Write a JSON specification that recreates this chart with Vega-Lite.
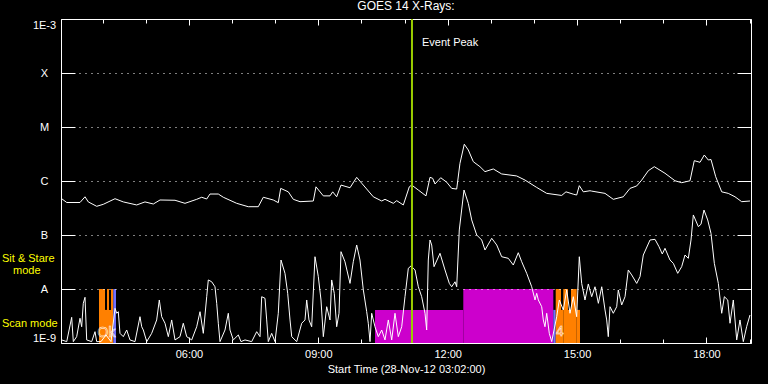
{
 "$schema": "https://vega.github.io/schema/vega-lite/v6.json",
 "width": 690, "height": 324,
 "autosize": {"type": "none"},
 "padding": {"left": 61, "top": 19, "right": 17, "bottom": 41},
 "background": "black",
 "title": {"text": "GOES 14 X-Rays:", "color": "white", "font": "Liberation Sans", "fontSize": 12, "fontWeight": "normal", "offset": 5},
 "config": {"view": {"stroke": "white", "strokeWidth": 1}, "font": "Liberation Sans"},
 "datasets": {
  "modes": [
   {"t0":3.9145,"t1":4.0536,"state":"S1","top":1e-8},
   {"t0":4.0536,"t1":4.1,"state":"S1","top":4.1e-9},
   {"t0":4.1,"t1":4.1464,"state":"S1","top":1e-8},
   {"t0":4.1464,"t1":4.1927,"state":"S1","top":4.1e-9},
   {"t0":4.1927,"t1":4.2461,"state":"S1","top":1e-8},
   {"t0":4.2461,"t1":4.3087,"state":"S3","top":1e-8},
   {"t0":10.3145,"t1":12.362,"state":"S2","top":4.1e-9},
   {"t0":12.362,"t1":14.449,"state":"S2","top":1e-8},
   {"t0":14.449,"t1":14.5046,"state":"S3","top":4.1e-9},
   {"t0":14.5046,"t1":14.6275,"state":"S1","top":1e-8},
   {"t0":14.6275,"t1":14.6809,"state":"S1","top":4.1e-9},
   {"t0":14.6809,"t1":14.7899,"state":"S1","top":1e-8},
   {"t0":14.7899,"t1":14.8594,"state":"S1","top":4.1e-9},
   {"t0":14.8594,"t1":14.9916,"state":"S1","top":1e-8},
   {"t0":14.9916,"t1":15.0681,"state":"S1","top":4.1e-9}
  ],
  "long": [
   {"t":3.034,"flux":4.8e-7},{"t":3.166,"flux":4.0e-7},{"t":3.474,"flux":4.0e-7},{"t":3.59,"flux":5.1e-7},{"t":3.666,"flux":4.1e-7},{"t":3.861,"flux":3.4e-7},{"t":4.014,"flux":3.7e-7},{"t":4.286,"flux":4.7e-7},{"t":4.478,"flux":4.1e-7},{"t":4.789,"flux":3.6e-7},{"t":4.981,"flux":4.1e-7},{"t":5.174,"flux":3.75e-7},{"t":5.329,"flux":4.45e-7},{"t":5.677,"flux":4.4e-7},{"t":5.909,"flux":3.86e-7},{"t":6.18,"flux":4.58e-7},{"t":6.296,"flux":5.0e-7},{"t":6.412,"flux":4.64e-7},{"t":6.488,"flux":5.74e-7},{"t":6.681,"flux":5.74e-7},{"t":6.797,"flux":5.0e-7},{"t":7.107,"flux":3.86e-7},{"t":7.376,"flux":3.34e-7},{"t":7.608,"flux":3.34e-7},{"t":7.724,"flux":5.0e-7},{"t":7.956,"flux":4.45e-7},{"t":8.072,"flux":3.97e-7},{"t":8.128,"flux":7.3e-7},{"t":8.304,"flux":6.3e-7},{"t":8.42,"flux":4.58e-7},{"t":8.575,"flux":4.14e-7},{"t":8.884,"flux":4.26e-7},{"t":8.946,"flux":7.8e-7},{"t":9.116,"flux":5.3e-7},{"t":9.271,"flux":5.3e-7},{"t":9.334,"flux":6.3e-7},{"t":9.426,"flux":5.1e-7},{"t":9.526,"flux":8.4e-7},{"t":9.735,"flux":7.5e-7},{"t":9.89,"flux":1.17e-6},{"t":10.006,"flux":9.1e-7},{"t":10.275,"flux":5.1e-7},{"t":10.47,"flux":4.26e-7},{"t":10.546,"flux":4.58e-7},{"t":10.739,"flux":3.86e-7},{"t":10.818,"flux":4.32e-7},{"t":10.971,"flux":3.6e-7},{"t":11.11,"flux":7.8e-7},{"t":11.166,"flux":8.4e-7},{"t":11.319,"flux":6.8e-7},{"t":11.497,"flux":5.3e-7},{"t":11.59,"flux":1.17e-6},{"t":11.652,"flux":1.12e-6},{"t":11.706,"flux":8.8e-7},{"t":11.838,"flux":1.15e-6},{"t":11.977,"flux":9.5e-7},{"t":12.093,"flux":7.3e-7},{"t":12.209,"flux":7.1e-7},{"t":12.285,"flux":2.13e-6},{"t":12.385,"flux":4.8e-6},{"t":12.478,"flux":3.75e-6},{"t":12.594,"flux":2.28e-6},{"t":12.749,"flux":1.84e-6},{"t":12.865,"flux":1.49e-6},{"t":13.058,"flux":1.67e-6},{"t":13.252,"flux":1.35e-6},{"t":13.6,"flux":1.24e-6},{"t":13.793,"flux":1.04e-6},{"t":14.064,"flux":7.6e-7},{"t":14.296,"flux":5.9e-7},{"t":14.644,"flux":5.4e-7},{"t":14.743,"flux":6.3e-7},{"t":14.913,"flux":5.7e-7},{"t":14.991,"flux":5.5e-7},{"t":15.052,"flux":8.2e-7},{"t":15.145,"flux":6.3e-7},{"t":15.3,"flux":6.6e-7},{"t":15.339,"flux":6.5e-7},{"t":15.648,"flux":5.9e-7},{"t":15.84,"flux":4.58e-7},{"t":16.072,"flux":5.1e-7},{"t":16.228,"flux":7.3e-7},{"t":16.383,"flux":8.1e-7},{"t":16.499,"flux":1.04e-6},{"t":16.652,"flux":1.55e-6},{"t":16.791,"flux":1.84e-6},{"t":17.039,"flux":1.39e-6},{"t":17.271,"flux":1.01e-6},{"t":17.426,"flux":9.3e-7},{"t":17.619,"flux":1.01e-6},{"t":17.718,"flux":2.38e-6},{"t":17.851,"flux":2.22e-6},{"t":17.95,"flux":3.03e-6},{"t":18.043,"flux":2.45e-6},{"t":18.106,"flux":2.5e-6},{"t":18.215,"flux":1.2e-6},{"t":18.354,"flux":6.3e-7},{"t":18.506,"flux":5.9e-7},{"t":18.662,"flux":5.1e-7},{"t":18.817,"flux":4.14e-7},{"t":19.01,"flux":4.26e-7}
  ],
  "short": [
   {"t":3.05,"flux":1.14e-9},{"t":3.166,"flux":1.06e-9},{"t":3.281,"flux":2.99e-9},{"t":3.319,"flux":1.06e-9},{"t":3.397,"flux":1.31e-9},{"t":3.474,"flux":2.87e-9},{"t":3.513,"flux":2.0e-9},{"t":3.55,"flux":5.43e-9},{"t":3.59,"flux":7.02e-9},{"t":3.629,"flux":1.14e-9},{"t":3.745,"flux":1.06e-9},{"t":3.822,"flux":1.62e-9},{"t":3.861,"flux":1.06e-9},{"t":3.961,"flux":1.06e-9},{"t":4.077,"flux":1.41e-9},{"t":4.193,"flux":1.06e-9},{"t":4.286,"flux":4.39e-9},{"t":4.325,"flux":3.55e-9},{"t":4.362,"flux":3.8e-9},{"t":4.401,"flux":1.51e-9},{"t":4.478,"flux":1.31e-9},{"t":4.557,"flux":1.74e-9},{"t":4.633,"flux":1.14e-9},{"t":4.749,"flux":1.06e-9},{"t":4.865,"flux":3.07e-9},{"t":4.905,"flux":2.0e-9},{"t":4.942,"flux":1.74e-9},{"t":5.021,"flux":1.06e-9},{"t":5.136,"flux":1.51e-9},{"t":5.252,"flux":2.67e-9},{"t":5.313,"flux":6.26e-9},{"t":5.368,"flux":3.07e-9},{"t":5.445,"flux":2.32e-9},{"t":5.522,"flux":1.31e-9},{"t":5.6,"flux":2.67e-9},{"t":5.677,"flux":1.14e-9},{"t":5.793,"flux":1.31e-9},{"t":5.869,"flux":2.32e-9},{"t":5.948,"flux":1.31e-9},{"t":6.064,"flux":1.14e-9},{"t":6.18,"flux":2.0e-9},{"t":6.257,"flux":3.8e-9},{"t":6.333,"flux":1.51e-9},{"t":6.412,"flux":7.2e-9},{"t":6.449,"flux":1.47e-8},{"t":6.528,"flux":1.36e-8},{"t":6.604,"flux":1.1e-8},{"t":6.644,"flux":5.43e-9},{"t":6.681,"flux":2.32e-9},{"t":6.72,"flux":1.06e-9},{"t":6.836,"flux":1.74e-9},{"t":6.913,"flux":3.55e-9},{"t":6.952,"flux":1.74e-9},{"t":7.029,"flux":1.14e-9},{"t":7.145,"flux":1.41e-9},{"t":7.207,"flux":1.06e-9},{"t":7.3,"flux":1.14e-9},{"t":7.455,"flux":1.06e-9},{"t":7.571,"flux":1.62e-9},{"t":7.648,"flux":1.31e-9},{"t":7.687,"flux":7.2e-9},{"t":7.764,"flux":6.73e-9},{"t":7.803,"flux":2.67e-9},{"t":7.84,"flux":1.06e-9},{"t":7.919,"flux":1.51e-9},{"t":7.996,"flux":1.06e-9},{"t":8.072,"flux":3.55e-9},{"t":8.135,"flux":3.44e-8},{"t":8.227,"flux":1.95e-8},{"t":8.29,"flux":8.32e-9},{"t":8.344,"flux":2.67e-9},{"t":8.383,"flux":1.31e-9},{"t":8.499,"flux":1.06e-9},{"t":8.615,"flux":2.32e-9},{"t":8.691,"flux":2.67e-9},{"t":8.731,"flux":6.26e-9},{"t":8.784,"flux":2.67e-9},{"t":8.846,"flux":2.0e-9},{"t":8.923,"flux":3.96e-8},{"t":9.0,"flux":1.69e-8},{"t":9.062,"flux":6.26e-9},{"t":9.116,"flux":1.31e-9},{"t":9.194,"flux":4.7e-9},{"t":9.271,"flux":2.67e-9},{"t":9.31,"flux":1.47e-8},{"t":9.37,"flux":8.32e-9},{"t":9.426,"flux":2.0e-9},{"t":9.48,"flux":3.55e-9},{"t":9.526,"flux":4.91e-8},{"t":9.618,"flux":3.2e-8},{"t":9.735,"flux":1.27e-8},{"t":9.811,"flux":3.2e-8},{"t":9.89,"flux":6.53e-8},{"t":9.966,"flux":3.44e-8},{"t":10.044,"flux":9.58e-9},{"t":10.122,"flux":3.8e-9},{"t":10.159,"flux":2.32e-9},{"t":10.199,"flux":1.06e-9},{"t":10.238,"flux":3.55e-9},{"t":10.314,"flux":2.0e-9},{"t":10.391,"flux":1.31e-9},{"t":10.47,"flux":1.74e-9},{"t":10.546,"flux":1.14e-9},{"t":10.623,"flux":2.67e-9},{"t":10.702,"flux":1.14e-9},{"t":10.778,"flux":3.55e-9},{"t":10.855,"flux":1.31e-9},{"t":10.934,"flux":2.0e-9},{"t":11.01,"flux":7.2e-9},{"t":11.087,"flux":2.42e-8},{"t":11.15,"flux":2.67e-8},{"t":11.243,"flux":2.25e-8},{"t":11.319,"flux":1.1e-8},{"t":11.397,"flux":7.2e-9},{"t":11.474,"flux":3.55e-9},{"t":11.513,"flux":1.74e-9},{"t":11.55,"flux":3.44e-8},{"t":11.59,"flux":8.08e-8},{"t":11.629,"flux":6.53e-8},{"t":11.683,"flux":2.59e-8},{"t":11.822,"flux":4.58e-8},{"t":11.938,"flux":2.25e-8},{"t":12.038,"flux":1.27e-8},{"t":12.093,"flux":1.1e-8},{"t":12.17,"flux":1.36e-8},{"t":12.209,"flux":1.1e-8},{"t":12.269,"flux":1.24e-7},{"t":12.378,"flux":6.81e-7},{"t":12.478,"flux":3.86e-7},{"t":12.557,"flux":1.9e-7},{"t":12.673,"flux":1.0e-7},{"t":12.789,"flux":8.08e-8},{"t":12.865,"flux":5.27e-8},{"t":13.021,"flux":8.69e-8},{"t":13.137,"flux":6.53e-8},{"t":13.252,"flux":3.96e-8},{"t":13.406,"flux":3.7e-8},{"t":13.521,"flux":2.78e-8},{"t":13.637,"flux":4.7e-8},{"t":13.716,"flux":3.2e-8},{"t":13.832,"flux":1.95e-8},{"t":13.948,"flux":1.1e-8},{"t":14.025,"flux":6.26e-9},{"t":14.064,"flux":8.32e-9},{"t":14.102,"flux":6.26e-9},{"t":14.18,"flux":4.7e-9},{"t":14.217,"flux":2.67e-9},{"t":14.256,"flux":2.0e-9},{"t":14.296,"flux":3.55e-9},{"t":14.356,"flux":1.51e-9},{"t":14.412,"flux":1.06e-9},{"t":14.528,"flux":3.07e-9},{"t":14.588,"flux":6.26e-9},{"t":14.681,"flux":4.09e-9},{"t":14.76,"flux":9.58e-9},{"t":14.836,"flux":3.55e-9},{"t":14.913,"flux":7.2e-9},{"t":14.991,"flux":3.07e-9},{"t":15.052,"flux":3.96e-8},{"t":15.107,"flux":1.27e-8},{"t":15.184,"flux":6.26e-9},{"t":15.261,"flux":1.24e-8},{"t":15.339,"flux":7.2e-9},{"t":15.416,"flux":1.1e-8},{"t":15.494,"flux":5.43e-9},{"t":15.572,"flux":1.1e-8},{"t":15.648,"flux":4.09e-9},{"t":15.687,"flux":2.67e-9},{"t":15.724,"flux":1.31e-9},{"t":15.764,"flux":4.7e-9},{"t":15.84,"flux":3.55e-9},{"t":15.919,"flux":4.7e-9},{"t":15.956,"flux":9.58e-9},{"t":16.035,"flux":5.06e-9},{"t":16.112,"flux":7.2e-9},{"t":16.188,"flux":2.25e-8},{"t":16.267,"flux":1.82e-8},{"t":16.383,"flux":1.27e-8},{"t":16.46,"flux":1.69e-8},{"t":16.536,"flux":4.26e-8},{"t":16.692,"flux":8.08e-8},{"t":16.807,"flux":8.32e-8},{"t":16.9,"flux":6.07e-8},{"t":16.976,"flux":4.45e-8},{"t":17.039,"flux":5.67e-8},{"t":17.155,"flux":3.44e-8},{"t":17.232,"flux":2.99e-8},{"t":17.334,"flux":1.95e-8},{"t":17.426,"flux":2.59e-8},{"t":17.503,"flux":4.26e-8},{"t":17.58,"flux":3.7e-8},{"t":17.642,"flux":8.08e-8},{"t":17.696,"flux":2.35e-7},{"t":17.812,"flux":1.43e-7},{"t":17.874,"flux":1.58e-7},{"t":17.943,"flux":2.9e-7},{"t":18.029,"flux":1.9e-7},{"t":18.106,"flux":1.07e-7},{"t":18.183,"flux":2.99e-8},{"t":18.276,"flux":1.27e-8},{"t":18.354,"flux":3.55e-9},{"t":18.415,"flux":7.2e-9},{"t":18.494,"flux":6.26e-9},{"t":18.547,"flux":2.32e-9},{"t":18.623,"flux":6.26e-9},{"t":18.702,"flux":1.14e-9},{"t":18.778,"flux":2.67e-9},{"t":18.855,"flux":1.06e-9},{"t":18.932,"flux":2.0e-9},{"t":19.01,"flux":3.3e-9}
  ],
  "peak": [{"t": 11.172, "label": "Event Peak", "flux": 3.6e-4}],
  "notes": [
   {"label": "Sit & Stare", "t": 1.665, "flux": 3.6e-8},
   {"label": "mode", "t": 1.92, "flux": 2.15e-8},
   {"label": "Scan mode", "t": 1.665, "flux": 2.25e-9}
  ],
  "marks": [
   {"label": "Ok", "t": 4.088, "flux": 1.56e-9},
   {"label": "4", "t": 14.604, "flux": 1.6e-9}
  ]
 },
 "layer": [
  {
   "data": {"name": "modes"},
   "mark": {"type": "rect"},
   "encoding": {
    "x": {"field": "t0", "type": "quantitative",
     "scale": {"domain": [3.0333, 19.0333], "nice": false, "zero": false},
     "axis": {"orient": "bottom", "values": [4,5,6,7,8,9,10,11,12,13,14,15,16,17,18,19],
      "labelExpr": "datum.value % 3 == 0 ? (datum.value < 10 ? '0' : '') + datum.value + ':00' : ''",
      "tickSize": {"condition": {"test": "datum.value % 3 == 0", "value": -6}, "value": -4},
      "tickColor": "white", "domain": false, "grid": false,
      "labelColor": "white", "labelFont": "Liberation Sans", "labelFontSize": 11, "labelPadding": 11,
      "labelFlush": false, "labelOverlap": false,
      "title": "Start Time (28-Nov-12 03:02:00)", "titleColor": "white", "titleFont": "Liberation Sans",
      "titleFontSize": 11, "titleFontWeight": "normal", "titlePadding": 2}},
    "x2": {"field": "t1"},
    "y": {"field": "top", "type": "quantitative",
     "scale": {"type": "log", "domain": [1e-9, 1e-3], "nice": false},
     "axis": {"orient": "left", "values": [1e-9,1e-8,1e-7,1e-6,1e-5,1e-4,1e-3],
      "labelExpr": "datum.value < 3e-9 ? '1E-9' : datum.value < 3e-8 ? 'A' : datum.value < 3e-7 ? 'B' : datum.value < 3e-6 ? 'C' : datum.value < 3e-5 ? 'M' : datum.value < 3e-4 ? 'X' : '1E-3'",
      "tickSize": -14, "tickColor": "white", "domain": false,
      "grid": true, "gridColor": "white", "gridDash": [1,5], "gridWidth": 1,
      "labelAlign": "center", "labelPadding": 31, "labelFlush": true,
      "labelColor": "white", "labelFont": "Liberation Sans", "labelFontSize": 11,
      "title": null, "zindex": 1}},
    "y2": {"datum": 1e-9},
    "color": {"field": "state", "type": "nominal",
     "scale": {"domain": ["S1","S2","S3"], "range": ["#ff8000","#cc00cc","#7070ff"]}, "legend": null}
   }
  },
  {
   "data": {"name": "long"},
   "mark": {"type": "line", "color": "white", "strokeWidth": 1},
   "encoding": {
    "x": {"field": "t", "type": "quantitative",
     "axis": {"orient": "top", "values": [4,5,6,7,8,9,10,11,12,13,14,15,16,17,18,19], "labels": false,
      "tickSize": {"condition": {"test": "datum.value % 3 == 0", "value": -6}, "value": -4},
      "tickColor": "white", "domain": false, "grid": false, "title": null}},
    "y": {"field": "flux", "type": "quantitative",
     "axis": {"orient": "right", "values": [1e-9,1e-8,1e-7,1e-6,1e-5,1e-4,1e-3], "labels": false,
      "tickSize": -14, "tickColor": "white", "domain": false, "grid": false, "title": null}}
   }
  },
  {
   "data": {"name": "short"},
   "mark": {"type": "line", "color": "white", "strokeWidth": 1},
   "encoding": {
    "x": {"field": "t", "type": "quantitative", "axis": null},
    "y": {"field": "flux", "type": "quantitative", "axis": null}
   }
  },
  {
   "data": {"name": "marks"},
   "mark": {"type": "text", "fill": "transparent", "stroke": "white", "strokeWidth": 0.5, "fontSize": 14, "font": "Liberation Sans", "baseline": "middle", "align": "center"},
   "encoding": {
    "x": {"field": "t", "type": "quantitative", "axis": null},
    "y": {"field": "flux", "type": "quantitative", "axis": null},
    "text": {"field": "label"}
   }
  },
  {
   "data": {"name": "peak"},
   "mark": {"type": "rule", "color": "#99cc00", "strokeWidth": 2},
   "encoding": {
    "x": {"field": "t", "type": "quantitative", "axis": null}
   }
  },
  {
   "data": {"name": "peak"},
   "mark": {"type": "text", "color": "white", "fontSize": 11, "font": "Liberation Sans", "align": "left", "baseline": "middle", "dx": 10},
   "encoding": {
    "x": {"field": "t", "type": "quantitative", "axis": null},
    "y": {"field": "flux", "type": "quantitative", "axis": null},
    "text": {"field": "label"}
   }
  },
  {
   "data": {"name": "notes"},
   "mark": {"type": "text", "color": "#ffff00", "fontSize": 11, "font": "Liberation Sans", "align": "left", "baseline": "middle"},
   "encoding": {
    "x": {"field": "t", "type": "quantitative", "axis": null},
    "y": {"field": "flux", "type": "quantitative", "axis": null},
    "text": {"field": "label"}
   }
  }
 ],
 "resolve": {"axis": {"x": "independent", "y": "independent"}}
}
